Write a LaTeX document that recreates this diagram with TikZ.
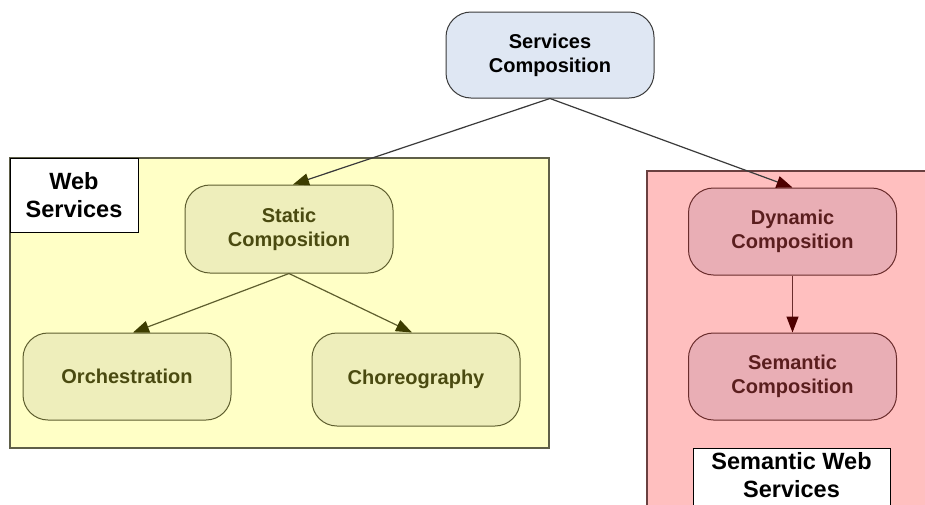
\documentclass[tikz,border=0pt]{standalone}
\usepackage{fontspec}
\setmainfont{Liberation Sans}
\usetikzlibrary{arrows.meta}
\definecolor{servfill}{HTML}{DFE7F3}
\definecolor{servline}{HTML}{3A3A3A}
\definecolor{ypanel}{HTML}{FFFFC6}
\definecolor{ypanelline}{HTML}{5F5F48}
\definecolor{ynode}{HTML}{EEEEBB}
\definecolor{ynodeline}{HTML}{5E5E2E}
\definecolor{ytext}{HTML}{4A4A10}
\definecolor{yarrow}{HTML}{3D3D00}
\definecolor{ppanel}{HTML}{FFBFBF}
\definecolor{ppanelline}{HTML}{6A4040}
\definecolor{pnode}{HTML}{E9AEB5}
\definecolor{pnodeline}{HTML}{6A2C2C}
\definecolor{ptext}{HTML}{5A1E1E}
\definecolor{parrow}{HTML}{4D0000}
\newcommand\mynodefont{\fontsize{20}{24}\selectfont\bfseries}
\newcommand\mylabelfont{\fontsize{23.5}{28}\selectfont\bfseries}
\begin{document}
\begin{tikzpicture}[x=1pt,y=-1pt,
  comp/.style={rounded corners=25pt, draw, line width=1pt, minimum width=208pt,
    minimum height=87pt, align=center, font=\mynodefont, inner sep=0pt},
  ycomp/.style={comp, fill=ynode, draw=ynodeline, text=ytext},
  pcomp/.style={comp, fill=pnode, draw=pnodeline, text=ptext},
  lbl/.style={draw=black, fill=white, line width=1pt, align=center, font=\mylabelfont, inner sep=0pt},
  panel/.style={line width=1.2pt},
  ytip/.style={-{Triangle[length=16pt,width=12pt,fill=yarrow,color=yarrow]}},
  ptip/.style={-{Triangle[length=16pt,width=12pt,fill=parrow,color=parrow]}},
  yconn/.style={line width=1.2pt, draw=ynodeline, ytip},
  pconn/.style={line width=1.2pt, draw=pnodeline, ptip},
  topconn/.style={line width=1.2pt, draw=servline}
]
\useasboundingbox (0,0) rectangle (925,504);
\fill[white] (0,0) rectangle (925,504);
% panels
\draw[panel, fill=ypanel, draw=ypanelline] (10,158) rectangle (549,448);
\draw[panel, fill=ppanel, draw=ppanelline] (647,171) rectangle (935,515);
% labels
\node[lbl, minimum width=128pt, minimum height=74pt] (wsl) at (74,195) {Web\\Services};
\node[lbl, anchor=north, minimum width=197pt, inner ysep=4pt, text depth=14pt] (swl) at (791.5,448) {Semantic Web\\Services};
% nodes
\node[comp, fill=servfill, draw=servline, text=black, minimum height=86pt] (sc) at (550,55) {Services\\Composition};
\node[ycomp, minimum height=88pt] (st) at (289,229) {Static\\Composition};
\node[ycomp] (or) at (127,376.5) {Orchestration};
\node[ycomp, minimum height=93pt] (ch) at (416,379.5) {Choreography};
\node[pcomp] (dy) at (792.5,231.5) {Dynamic\\Composition};
\node[pcomp] (se) at (792.5,376.5) {Semantic\\Composition};
% connectors
\draw[topconn, ytip] (sc.south) -- ([xshift=4pt]st.north);
\draw[topconn, ptip] (sc.south) -- (dy.north);
\draw[yconn] (st.south) -- ([xshift=6pt]or.north);
\draw[yconn] (st.south) -- ([xshift=-4pt]ch.north);
\draw[pconn] (dy.south) -- (se.north);
\end{tikzpicture}
\end{document}
